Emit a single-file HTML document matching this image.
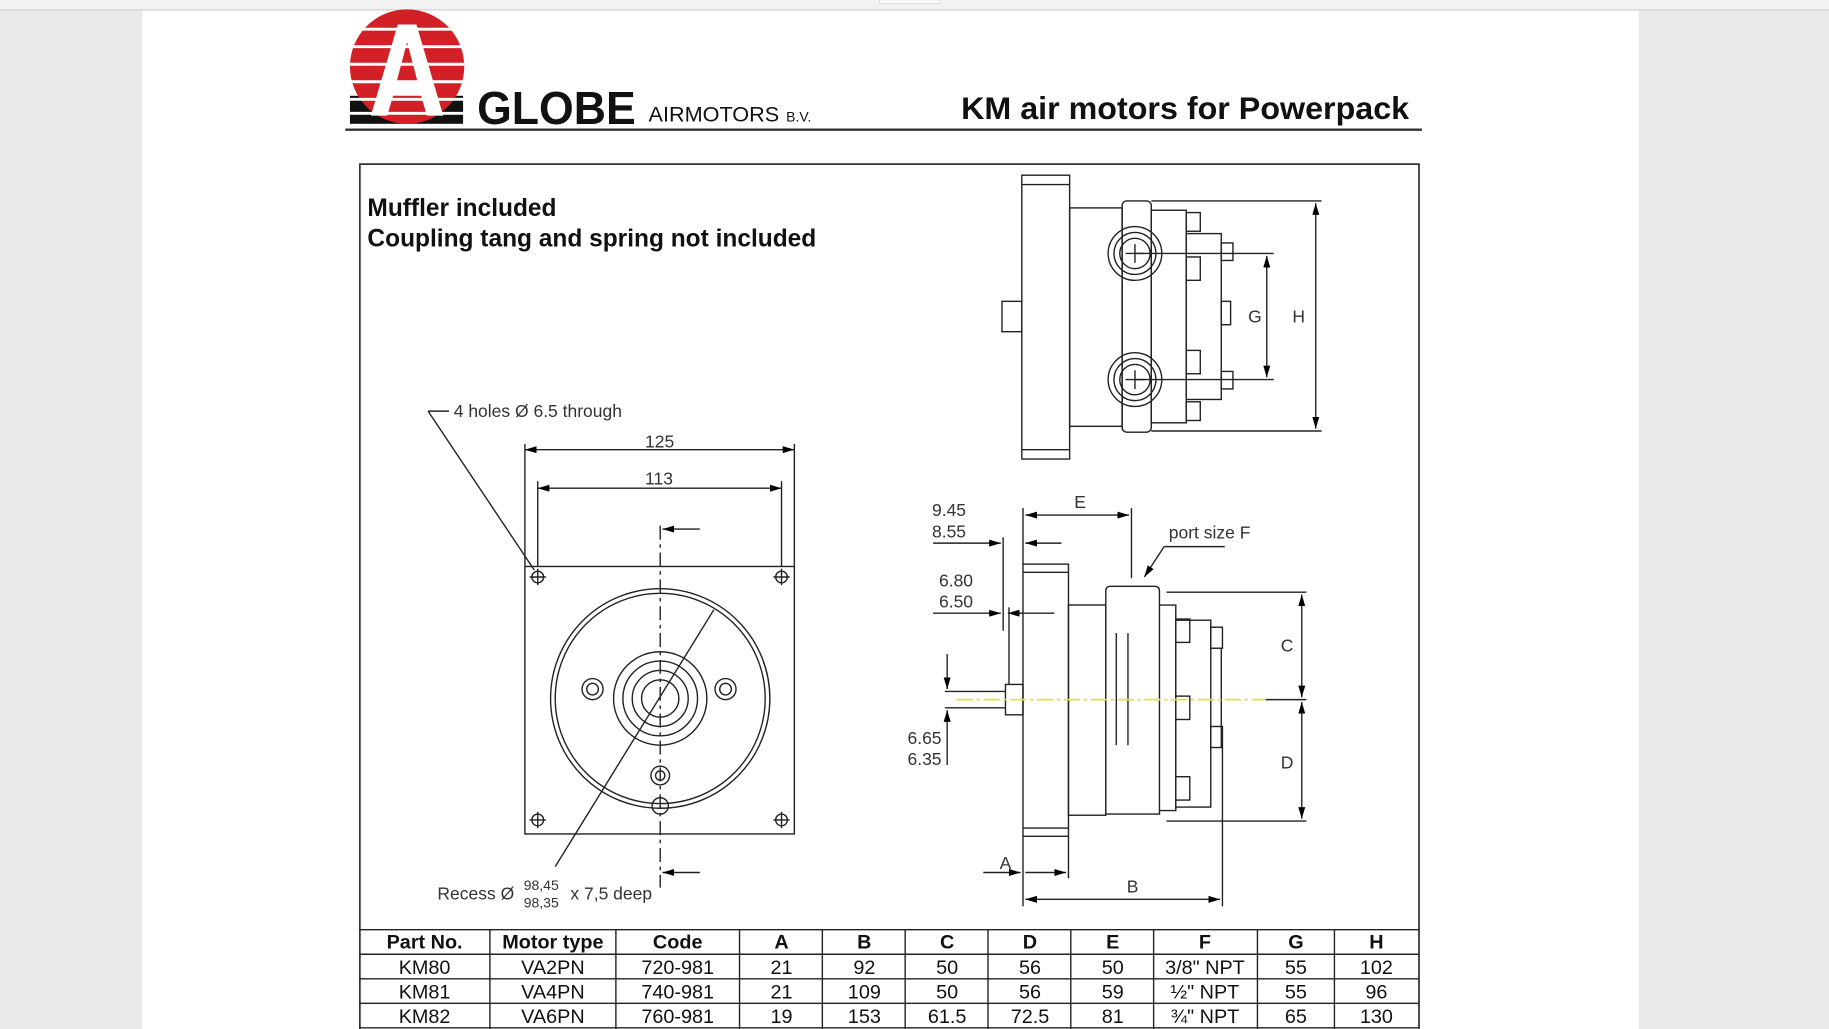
<!DOCTYPE html>
<html><head><meta charset="utf-8"><style>
html,body{margin:0;padding:0;width:1829px;height:1029px;overflow:hidden;background:#e9e9e9}
svg{display:block}
text{font-family:"Liberation Sans",Arial,sans-serif}
</style></head><body>
<svg width="1829" height="1029" viewBox="0 0 1568 881" preserveAspectRatio="none">
<defs>
<marker id="ar" viewBox="0 0 10 6" refX="10" refY="3" markerWidth="10" markerHeight="6" orient="auto-start-reverse" markerUnits="userSpaceOnUse"><path d="M0,0L10,3L0,6z" fill="#000"/></marker>
</defs>
<rect x="0" y="0" width="1568" height="881" fill="#e9e9e9"/>
<rect x="0" y="0" width="1568" height="8" fill="#f2f2f2"/>
<line x1="0" y1="8.5" x2="1568" y2="8.5" stroke="#cfcfcf"/>
<rect x="754" y="0" width="52" height="3" fill="#fff" stroke="#ccc" stroke-width="0.5"/>
<rect x="122" y="9" width="1283" height="872" fill="#fff"/>

<!-- logo -->
<rect x="300" y="82" width="97" height="24" fill="#111"/>
<circle cx="349" cy="57" r="49" fill="#d32027"/>
<g stroke="#fff" stroke-width="2.5">
<line x1="300" y1="25" x2="398" y2="25"/><line x1="300" y1="40" x2="398" y2="40"/>
<line x1="300" y1="55" x2="398" y2="55"/><line x1="300" y1="70" x2="398" y2="70"/>
<line x1="300" y1="85" x2="398" y2="85"/><line x1="300" y1="97" x2="398" y2="97"/>
</g>
<path d="M341,21 L357,21 L380,99 L366,99 L361,82 L337,82 L332,99 L318,99 Z M340,70 L358,70 L349,36 Z" fill="#fff" fill-rule="evenodd"/>
<text x="409" y="106" font-size="40" font-weight="bold" fill="#111" textLength="136" lengthAdjust="spacingAndGlyphs">GLOBE</text>
<text x="556" y="104" font-size="18" fill="#111" textLength="112" lengthAdjust="spacingAndGlyphs">AIRMOTORS</text>
<text x="674" y="104" font-size="12" fill="#111">B.V.</text>
<text x="824" y="102" font-size="27" font-weight="bold" fill="#111" textLength="384" lengthAdjust="spacingAndGlyphs">KM air motors for Powerpack</text>
<line x1="296" y1="111" x2="1219" y2="111" stroke="#333" stroke-width="2"/>

<!-- box -->
<rect x="308.5" y="140.5" width="908" height="750" fill="none" stroke="#333" stroke-width="1.5"/>
<text x="315" y="185" font-size="21" font-weight="bold" fill="#111">Muffler included</text>
<text x="315" y="211" font-size="21" font-weight="bold" fill="#111">Coupling tang and spring not included</text>

<g fill="none" stroke="#222" stroke-width="1.2">
<!-- front view -->
<rect x="450" y="485" width="231" height="229"/>
<circle cx="566" cy="598" r="94"/>
<circle cx="566" cy="598" r="90"/>
<circle cx="566" cy="598" r="40"/>
<circle cx="566" cy="598" r="32"/>
<circle cx="566" cy="598" r="24"/>
<circle cx="566" cy="598" r="16"/>
<circle cx="508" cy="590" r="9"/><circle cx="508" cy="590" r="5"/>
<circle cx="622" cy="590" r="9"/><circle cx="622" cy="590" r="5"/>
<circle cx="566" cy="664" r="8"/><circle cx="566" cy="664" r="4"/>
<circle cx="566" cy="690" r="7"/>
<g>
<circle cx="461" cy="494" r="5"/><circle cx="670" cy="494" r="5"/>
<circle cx="461" cy="702" r="5"/><circle cx="670" cy="702" r="5"/>
<path d="M454,494h14M461,487v14M663,494h14M670,487v14M454,702h14M461,695v14M663,702h14M670,695v14"/>
</g>
<line x1="566" y1="450" x2="566" y2="760" stroke-dasharray="12,4,3,4"/>
<line x1="476" y1="742" x2="612" y2="522"/>
<line x1="367" y1="352" x2="385" y2="352"/>
<line x1="367" y1="352" x2="458" y2="488"/>
<!-- dims 125/113 -->
<line x1="450" y1="380" x2="450" y2="485"/><line x1="681" y1="380" x2="681" y2="485"/>
<line x1="461" y1="412" x2="461" y2="485"/><line x1="670" y1="412" x2="670" y2="485"/>
<line x1="450" y1="385" x2="681" y2="385" marker-start="url(#ar)" marker-end="url(#ar)"/>
<line x1="461" y1="418" x2="670" y2="418" marker-start="url(#ar)" marker-end="url(#ar)"/>
<line x1="600" y1="453" x2="568" y2="453" marker-end="url(#ar)"/>
<line x1="600" y1="747" x2="568" y2="747" marker-end="url(#ar)"/>

<!-- top right view -->
<rect x="876" y="150" width="41" height="243"/>
<line x1="876" y1="158" x2="917" y2="158"/><line x1="876" y1="385" x2="917" y2="385"/>
<rect x="859" y="258" width="17" height="26"/>
<rect x="917" y="178" width="45" height="187"/>
<rect x="962" y="172" width="25" height="198" rx="4"/>
<rect x="987" y="180" width="30" height="182"/>
<rect x="1017" y="200" width="30" height="142"/>
<rect x="1017" y="182" width="12" height="16"/><rect x="1017" y="344" width="12" height="16"/>
<rect x="1017" y="220" width="12" height="20"/><rect x="1017" y="300" width="12" height="20"/>
<rect x="1047" y="208" width="10" height="15"/><rect x="1047" y="318" width="10" height="15"/>
<rect x="1047" y="258" width="8" height="20"/>
<circle cx="973" cy="217" r="23"/><circle cx="973" cy="217" r="18"/><circle cx="973" cy="217" r="13"/>
<circle cx="973" cy="325" r="23"/><circle cx="973" cy="325" r="18"/><circle cx="973" cy="325" r="13"/>
<path d="M965,217h16M973,209v16M965,325h16M973,317v16"/>
<line x1="987" y1="172" x2="1133" y2="172"/>
<line x1="987" y1="369" x2="1133" y2="369"/>
<line x1="973" y1="217" x2="1092" y2="217"/>
<line x1="973" y1="325" x2="1092" y2="325"/>
<line x1="1128" y1="174" x2="1128" y2="367" marker-start="url(#ar)" marker-end="url(#ar)"/>
<line x1="1086" y1="219" x2="1086" y2="323" marker-start="url(#ar)" marker-end="url(#ar)"/>

<!-- side view -->
<rect x="877" y="483" width="39" height="233"/>
<line x1="877" y1="490" x2="916" y2="490"/><line x1="877" y1="709" x2="916" y2="709"/>
<rect x="916" y="518" width="32" height="180"/>
<path d="M948,697 V506 Q948,502 952,502 H990 Q994,502 994,506 V697 Z"/>
<path d="M994,518 H1008 V694 H994"/>
<rect x="1008" y="531" width="30" height="160"/>
<rect x="1008" y="530" width="12" height="20"/><rect x="1008" y="596" width="12" height="20"/><rect x="1008" y="665" width="12" height="20"/>
<rect x="1038" y="537" width="10" height="18"/><rect x="1038" y="622" width="10" height="18"/>
<line x1="1047" y1="555" x2="1047" y2="640"/>
<line x1="957" y1="542" x2="957" y2="638"/><line x1="967" y1="542" x2="967" y2="638"/>
<rect x="862" y="586" width="15" height="26"/>
<line x1="810" y1="592" x2="862" y2="592"/><line x1="810" y1="606" x2="862" y2="606"/>
<line x1="1000" y1="507" x2="1120" y2="507"/>
<line x1="1000" y1="703" x2="1120" y2="703"/>
<line x1="1085" y1="599" x2="1120" y2="599"/>
<line x1="1116" y1="509" x2="1116" y2="597" marker-start="url(#ar)" marker-end="url(#ar)"/>
<line x1="1116" y1="601" x2="1116" y2="701" marker-start="url(#ar)" marker-end="url(#ar)"/>
<!-- E -->
<line x1="877" y1="435" x2="877" y2="483"/><line x1="970" y1="435" x2="970" y2="495"/>
<line x1="879" y1="441" x2="968" y2="441" marker-start="url(#ar)" marker-end="url(#ar)"/>
<!-- port size -->
<line x1="1050" y1="468" x2="998" y2="468"/>
<line x1="998" y1="468" x2="981" y2="494" marker-end="url(#ar)"/>
<!-- 9.45 / 8.55 -->
<line x1="860" y1="460" x2="860" y2="540"/>
<line x1="800" y1="465" x2="858" y2="465" marker-end="url(#ar)"/>
<line x1="910" y1="465" x2="879" y2="465" marker-end="url(#ar)"/>
<line x1="800" y1="525" x2="858" y2="525" marker-end="url(#ar)"/>
<line x1="904" y1="525" x2="864" y2="525" marker-end="url(#ar)"/>
<line x1="865" y1="520" x2="865" y2="586"/>
<!-- 6.65 -->
<line x1="812" y1="560" x2="812" y2="590" marker-end="url(#ar)"/>
<line x1="812" y1="655" x2="812" y2="608" marker-end="url(#ar)"/>
<!-- A, B -->
<line x1="877" y1="716" x2="877" y2="776"/><line x1="916" y1="716" x2="916" y2="752"/>
<line x1="1048" y1="640" x2="1048" y2="776"/>
<line x1="843" y1="747" x2="875" y2="747" marker-end="url(#ar)"/>
<line x1="879" y1="747" x2="914" y2="747" marker-end="url(#ar)"/>
<line x1="879" y1="770" x2="1046" y2="770" marker-start="url(#ar)" marker-end="url(#ar)"/>
</g>
<line x1="820" y1="599" x2="1085" y2="599" stroke="#e6e23a" stroke-width="1.5" stroke-dasharray="14,3,3,3"/>

<g font-size="15" fill="#333">
<text x="389" y="357">4 holes Ø 6.5 through</text>
<text x="553" y="383">125</text>
<text x="553" y="415">113</text>
<text x="375" y="770">Recess Ø</text>
<text x="449" y="762" font-size="12">98,45</text>
<text x="449" y="777" font-size="12">98,35</text>
<text x="489" y="770">x 7,5 deep</text>
<text x="1070" y="276">G</text>
<text x="1108" y="276">H</text>
<text x="921" y="435">E</text>
<text x="1002" y="461">port size F</text>
<text x="799" y="442">9.45</text>
<text x="799" y="460">8.55</text>
<text x="805" y="502">6.80</text>
<text x="805" y="520">6.50</text>
<text x="778" y="637">6.65</text>
<text x="778" y="655">6.35</text>
<text x="1098" y="558">C</text>
<text x="1098" y="658">D</text>
<text x="857" y="744">A</text>
<text x="966" y="764">B</text>
</g>

<!-- table -->
<g stroke="#222" stroke-width="1.2">
<line x1="308" y1="796" x2="1216" y2="796"/>
<line x1="308" y1="817" x2="1216" y2="817"/>
<line x1="308" y1="838" x2="1216" y2="838"/>
<line x1="308" y1="859" x2="1216" y2="859"/>
<line x1="308" y1="880" x2="1216" y2="880"/>
<line x1="420" y1="796" x2="420" y2="881"/><line x1="528" y1="796" x2="528" y2="881"/>
<line x1="634" y1="796" x2="634" y2="881"/><line x1="705" y1="796" x2="705" y2="881"/>
<line x1="776" y1="796" x2="776" y2="881"/><line x1="847" y1="796" x2="847" y2="881"/>
<line x1="918" y1="796" x2="918" y2="881"/><line x1="989" y1="796" x2="989" y2="881"/>
<line x1="1078" y1="796" x2="1078" y2="881"/><line x1="1144" y1="796" x2="1144" y2="881"/>
</g>
<g font-size="17" fill="#111" text-anchor="middle">
<g font-weight="bold">
<text x="364" y="812">Part No.</text><text x="474" y="812">Motor type</text><text x="581" y="812">Code</text>
<text x="670" y="812">A</text><text x="741" y="812">B</text><text x="812" y="812">C</text><text x="883" y="812">D</text>
<text x="954" y="812">E</text><text x="1033" y="812">F</text><text x="1111" y="812">G</text><text x="1180" y="812">H</text>
</g>
<text x="364" y="834">KM80</text><text x="474" y="834">VA2PN</text><text x="581" y="834">720-981</text>
<text x="670" y="834">21</text><text x="741" y="834">92</text><text x="812" y="834">50</text><text x="883" y="834">56</text>
<text x="954" y="834">50</text><text x="1033" y="834">3/8" NPT</text><text x="1111" y="834">55</text><text x="1180" y="834">102</text>
<text x="364" y="855">KM81</text><text x="474" y="855">VA4PN</text><text x="581" y="855">740-981</text>
<text x="670" y="855">21</text><text x="741" y="855">109</text><text x="812" y="855">50</text><text x="883" y="855">56</text>
<text x="954" y="855">59</text><text x="1033" y="855">½" NPT</text><text x="1111" y="855">55</text><text x="1180" y="855">96</text>
<text x="364" y="876">KM82</text><text x="474" y="876">VA6PN</text><text x="581" y="876">760-981</text>
<text x="670" y="876">19</text><text x="741" y="876">153</text><text x="812" y="876">61.5</text><text x="883" y="876">72.5</text>
<text x="954" y="876">81</text><text x="1033" y="876">¾" NPT</text><text x="1111" y="876">65</text><text x="1180" y="876">130</text>
</g>
</svg>
</body></html>
